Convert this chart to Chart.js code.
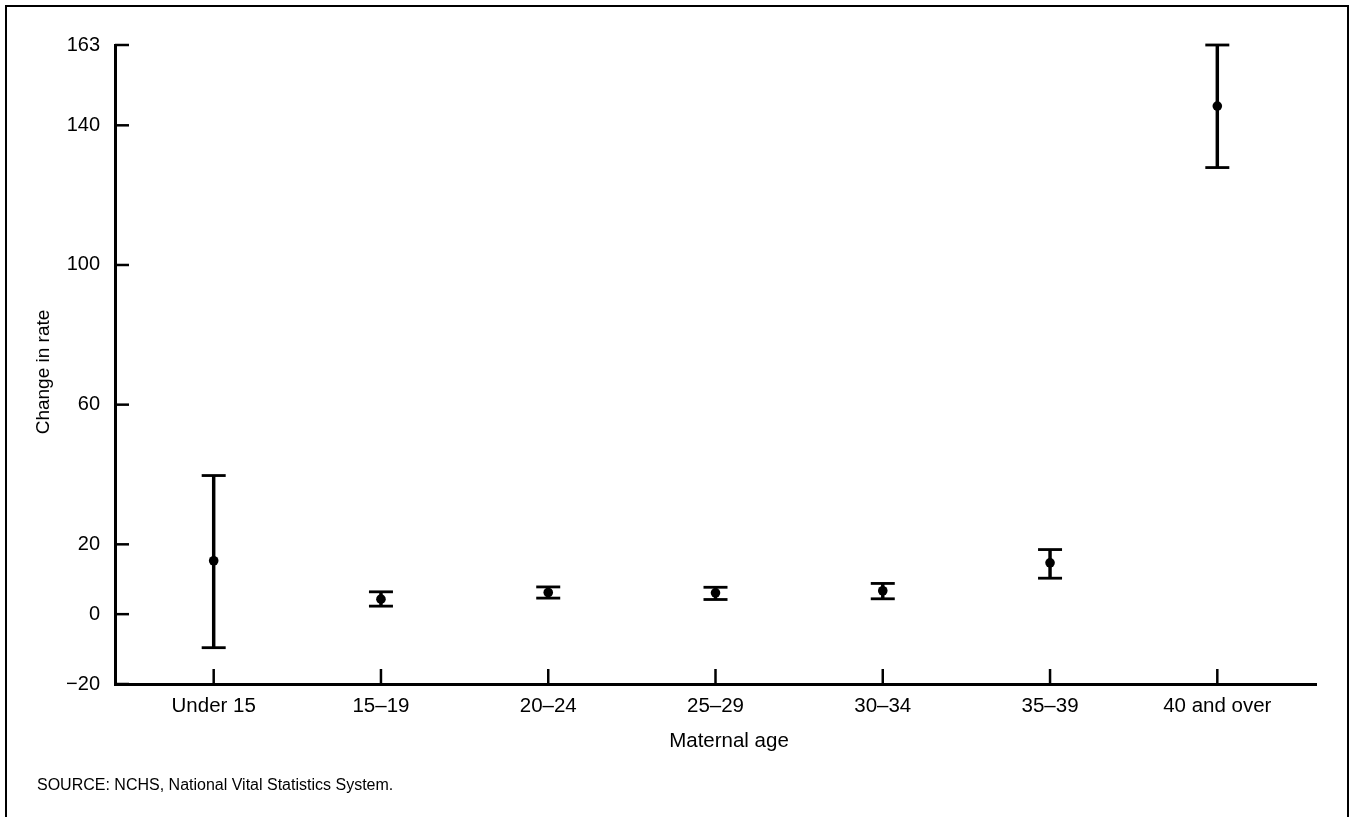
<!DOCTYPE html>
<html>
<head>
<meta charset="utf-8">
<script src="https://cdn.jsdelivr.net/npm/chart.js@4.4.1/dist/chart.umd.min.js"></script>
<style>
  html, body { margin: 0; padding: 0; background: #fff; overflow: hidden; }
  body { width: 1351px; height: 817px; position: relative; font-family: "Liberation Sans", Arial, Helvetica, sans-serif; color: #000; }
  #frame { position: absolute; left: 5px; top: 5px; width: 1344px; height: 900px; border: 2px solid #000; box-sizing: border-box; }
  #wrap { position: absolute; left: 0; top: 0; width: 1351px; height: 817px; }
  .txt { position: absolute; white-space: nowrap; line-height: 1; color: #000; }
  #xtitle { left: 629px; width: 200px; top: 729.6px; text-align: center; font-size: 20.5px; }
  #ytitle { left: -57px; width: 200px; top: 362px; height: 20px; line-height: 20px; text-align: center; font-size: 19px; transform: rotate(-90deg); }
  #source { left: 37px; top: 776.5px; font-size: 16px; }
</style>
</head>
<body>
<div id="frame"></div>
<div id="wrap"><canvas id="c" width="1351" height="817"></canvas></div>
<div class="txt" id="xtitle">Maternal age</div>
<div class="txt" id="ytitle">Change in rate</div>
<div class="txt" id="source">SOURCE: NCHS, National Vital Statistics System.</div>
<script>
const categories = ['Under 15', '15–19', '20–24', '25–29', '30–34', '35–39', '40 and over'];
const estimate = [15.3, 4.3, 6.2, 6.1, 6.7, 14.7, 145.5];
const lower = [-9.6, 2.3, 4.6, 4.2, 4.4, 10.3, 127.9];
const upper = [39.7, 6.4, 7.8, 7.7, 8.8, 18.5, 163];
const yTickValues = [-20, 0, 20, 60, 100, 140, 163];

const FONT = '"Liberation Sans", Arial, Helvetica, sans-serif';

const pointData = estimate.map((v, i) => ({ x: i, y: v }));
const whiskerData = categories.map((c, i) => ({ x: i, y: [lower[i], upper[i]] }));
const capData = [];
categories.forEach((c, i) => { capData.push({ x: i, y: lower[i] }); capData.push({ x: i, y: upper[i] }); });

const innerTicks = {
  id: 'innerTicks',
  afterDatasetsDraw(chart) {
    const { ctx, chartArea, scales } = chart;
    ctx.save();
    ctx.strokeStyle = '#000';
    ctx.lineWidth = 2.5;
    ctx.lineCap = 'butt';
    scales.y.ticks.forEach(t => {
      const y = scales.y.getPixelForValue(t.value);
      ctx.beginPath();
      ctx.moveTo(chartArea.left, y);
      ctx.lineTo(chartArea.left + 14, y);
      ctx.stroke();
    });
    scales.x.ticks.forEach(t => {
      const x = scales.x.getPixelForValue(t.value);
      ctx.beginPath();
      ctx.moveTo(x, chartArea.bottom);
      ctx.lineTo(x, chartArea.bottom - 15);
      ctx.stroke();
    });
    ctx.restore();
  }
};

new Chart(document.getElementById('c'), {
  data: {
    datasets: [
      {
        type: 'scatter',
        data: pointData,
        pointStyle: 'circle',
        pointRadius: 4.8,
        pointHoverRadius: 4.8,
        backgroundColor: '#000',
        borderColor: '#000',
        borderWidth: 0,
        clip: false
      },
      {
        type: 'scatter',
        data: capData,
        pointStyle: 'line',
        pointRadius: 12,
        pointHoverRadius: 12,
        borderColor: '#000',
        borderWidth: 2.8,
        clip: false
      },
      {
        type: 'bar',
        data: whiskerData,
        backgroundColor: '#000',
        borderWidth: 0,
        barThickness: 2.8,
        clip: false
      }
    ]
  },
  options: {
    responsive: false,
    animation: false,
    events: [],
    layout: { padding: { left: 0, right: 35, top: 45, bottom: 0 } },
    plugins: { legend: { display: false }, tooltip: { enabled: false }, title: { display: false } },
    scales: {
      x: {
        type: 'linear',
        min: -0.59,
        max: 6.59,
        offset: false,
        grid: { display: false, drawTicks: false },
        border: { display: true, color: '#000', width: 3 },
        afterBuildTicks(scale) { scale.ticks = categories.map((c, i) => ({ value: i })); },
        afterFit(scale) { scale.height = 133; },
        ticks: {
          autoSkip: false,
          maxRotation: 0,
          padding: 10,
          color: '#000',
          font: { family: FONT, size: 20.5 },
          callback: (v) => categories[v]
        }
      },
      y: {
        type: 'linear',
        min: -20,
        max: 163,
        grid: { display: false, drawTicks: false },
        border: { display: true, color: '#000', width: 3 },
        afterBuildTicks(scale) { scale.ticks = yTickValues.map(v => ({ value: v })); },
        afterFit(scale) { scale.width = 115; },
        ticks: {
          autoSkip: false,
          padding: 15,
          color: '#000',
          font: { family: FONT, size: 20 },
          callback: (v) => (v < 0 ? '\u2212' + Math.abs(v) : String(v))
        }
      }
    }
  },
  plugins: [innerTicks]
});
</script>
</body>
</html>
